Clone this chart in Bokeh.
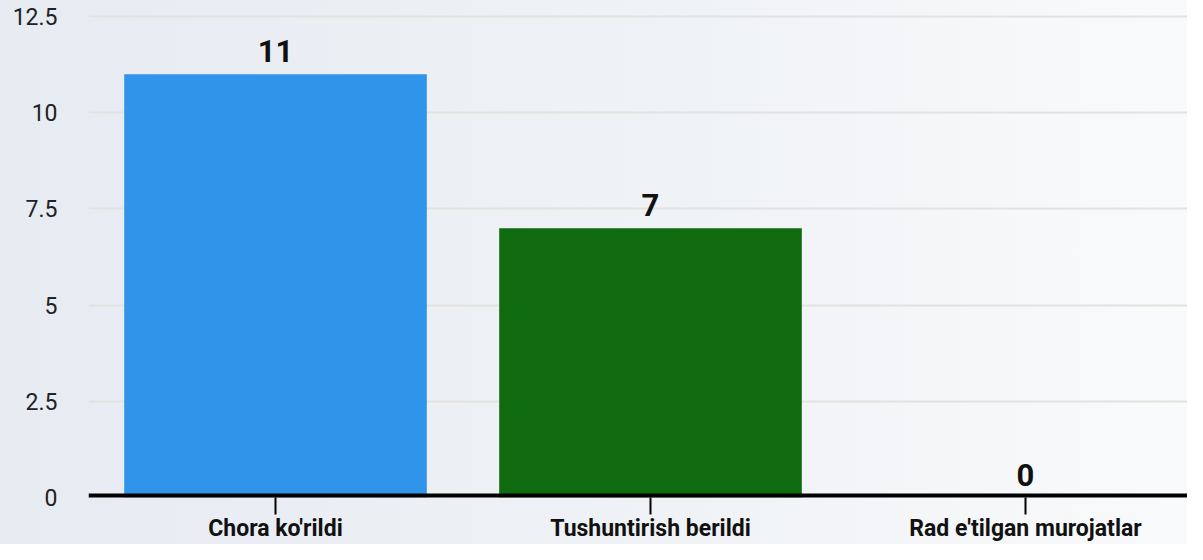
from bokeh.plotting import figure
from bokeh.models import Range1d, FixedTicker, ColumnDataSource, LabelSet, Span
from bokeh.embed import file_html
from bokeh.resources import INLINE
from bokeh.core.properties import value

categories = ["Chora ko'rildi", "Tushuntirish berildi", "Rad e'tilgan murojatlar"]
counts = [11, 7, 0]
bar_colors = ["#2f94ea", "#106a10", "#d32f2f"]
y_ticks = [0, 2.5, 5, 7.5, 10, 12.5]

positions = list(range(len(categories)))
source = ColumnDataSource(dict(
    x=positions, top=counts, color=bar_colors, label=[str(c) for c in counts]))

p = figure(width=1187, height=544, output_backend="svg", toolbar_location=None,
           x_range=Range1d(-0.4987, 2.432), y_range=Range1d(0, 12.92),
           min_border_left=88, min_border_right=0, min_border_top=0,
           min_border_bottom=0)

p.background_fill_alpha = 0
p.border_fill_alpha = 0
p.outline_line_color = None
p.styles = {"background": "linear-gradient(to right, #e7ebf2 0%, #eef1f5 50%, #f9fafb 100%)"}

p.vbar(x="x", top="top", bottom=0, width=0.807, fill_color="color",
       line_color=None, source=source)

baseline = Span(location=0, dimension="width", line_color="black", line_width=8)
p.add_layout(baseline)

labels = LabelSet(x="x", y="top", text="label", source=source,
                  text_align="center", text_baseline="alphabetic", y_offset=12,
                  text_font=value("Roboto"), text_font_style="bold",
                  text_font_size="31px", text_color="#111111")
p.add_layout(labels)

# y axis
p.yaxis.ticker = FixedTicker(ticks=y_ticks)
p.yaxis.axis_line_color = None
p.yaxis.major_tick_line_color = None
p.yaxis.minor_tick_line_color = None
p.yaxis.major_tick_in = 0
p.yaxis.major_tick_out = 0
p.yaxis.minor_tick_in = 0
p.yaxis.minor_tick_out = 0
p.yaxis.major_label_standoff = 31
p.yaxis.major_label_text_font = "Roboto"
p.yaxis.major_label_text_font_size = "23px"
p.yaxis.major_label_text_color = "#222222"
p.yaxis.axis_label_standoff = 0

# x axis
p.xaxis.ticker = FixedTicker(ticks=positions)
p.xaxis.major_label_overrides = {i: c for i, c in zip(positions, categories)}
p.xaxis.axis_line_color = None
p.xaxis.major_tick_line_color = "black"
p.xaxis.major_tick_line_width = 2
p.xaxis.major_tick_in = 0
p.xaxis.major_tick_out = 17
p.xaxis.minor_tick_line_color = None
p.xaxis.minor_tick_in = 0
p.xaxis.minor_tick_out = 0
p.xaxis.major_label_standoff = 0
p.xaxis.axis_label_standoff = 0
p.xaxis.major_label_text_font = "Roboto"
p.xaxis.major_label_text_font_style = "bold"
p.xaxis.major_label_text_font_size = "23px"
p.xaxis.major_label_text_color = "#111111"

p.xgrid.grid_line_color = None
p.ygrid.grid_line_color = "#e3e2e0"
p.ygrid.grid_line_width = 2

open("out.html", "w").write(file_html(p, INLINE))
